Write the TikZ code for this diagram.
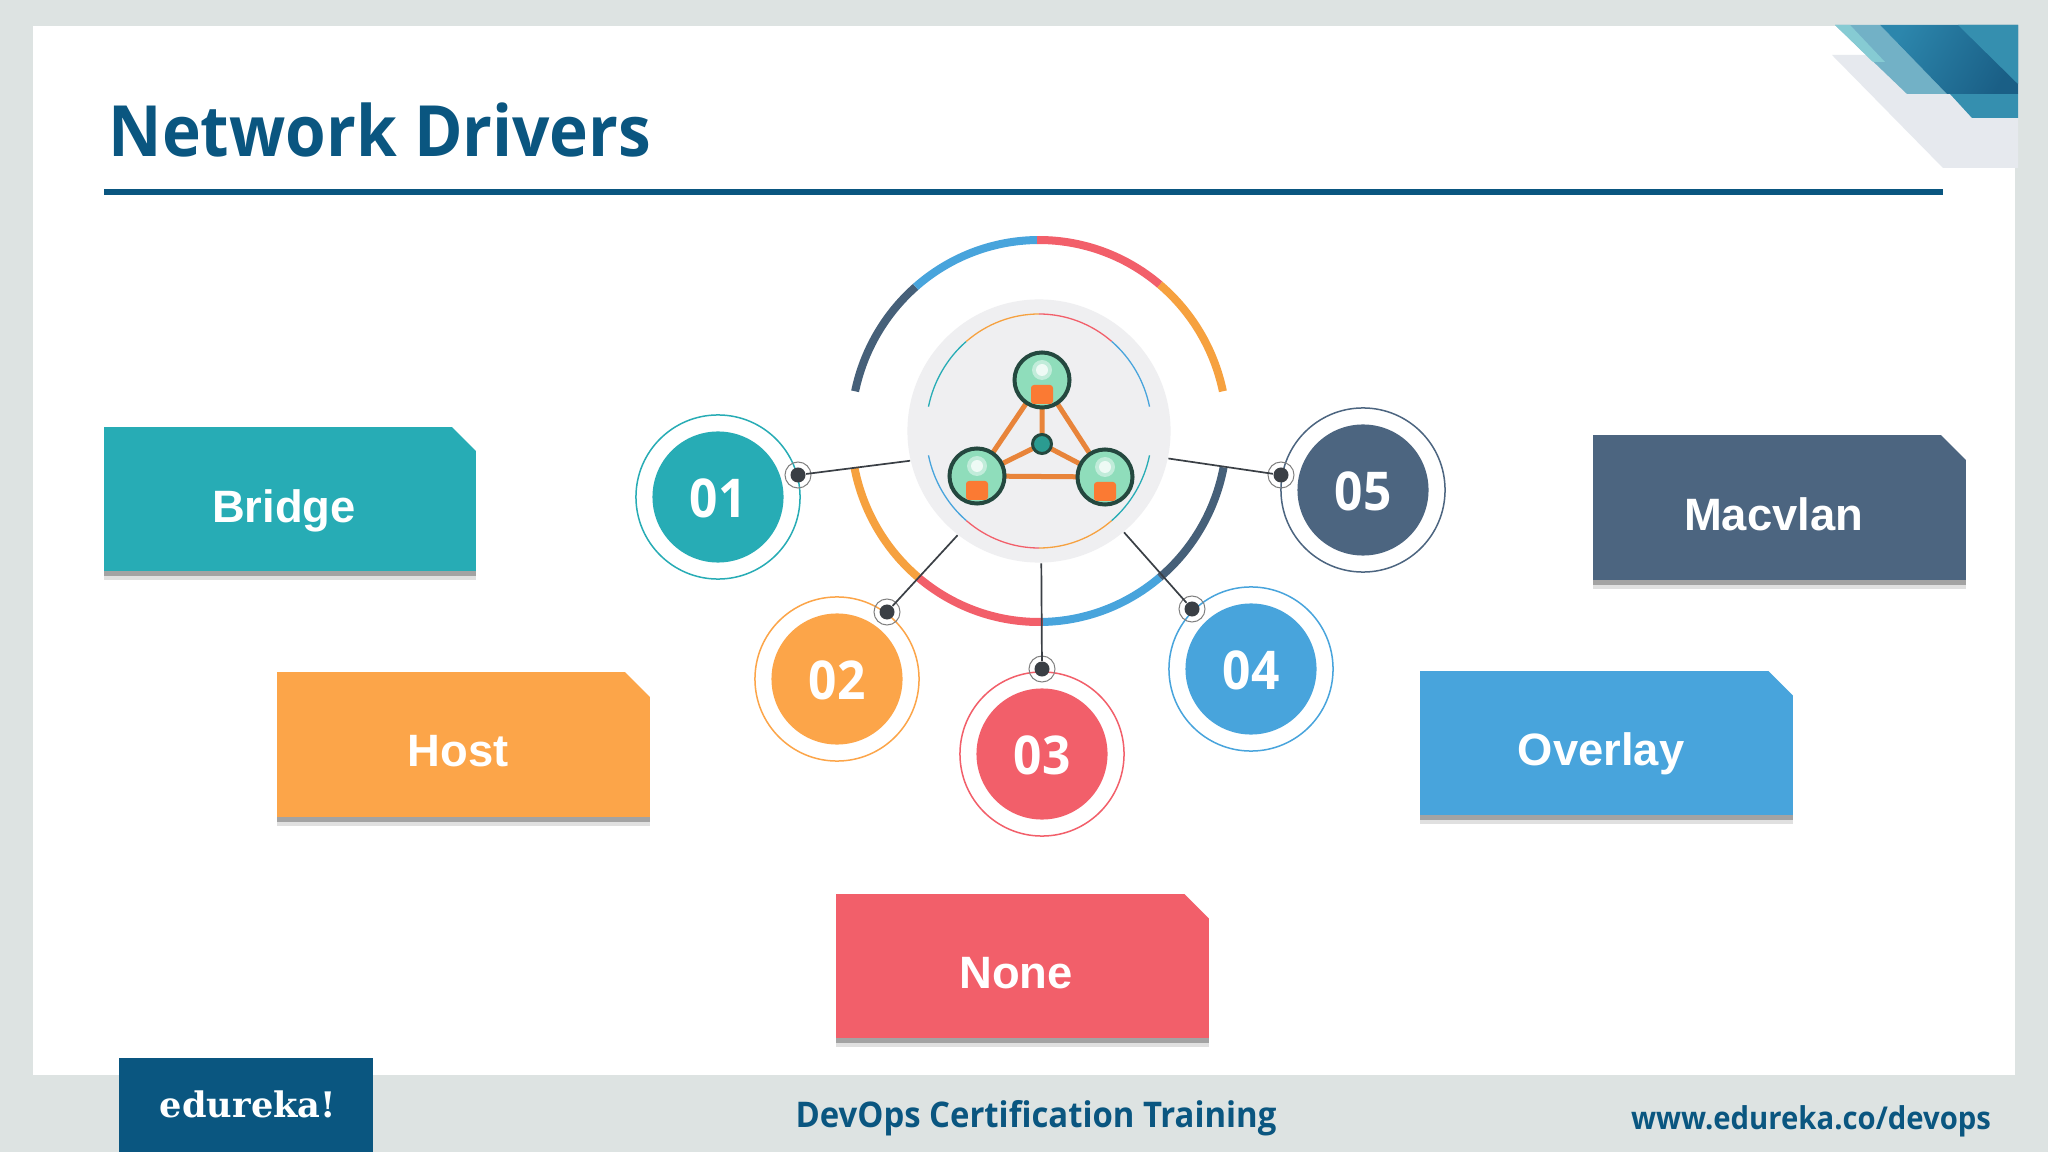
\documentclass[tikz,border=0pt]{standalone}
\usepackage{fontspec}
\setmainfont{Open Sans}[FakeStretch=0.93]
\newfontfamily\cardfont{Liberation Sans}
\newfontfamily\logofont{DejaVu Serif}
\definecolor{framegray}{HTML}{DDE3E2}
\definecolor{navy}{HTML}{0A5680}
\definecolor{tealc}{HTML}{27ACB5}
\definecolor{orangec}{HTML}{FCA549}
\definecolor{redc}{HTML}{F25F6A}
\definecolor{bluec}{HTML}{48A4DC}
\definecolor{slatec}{HTML}{4C6580}
\definecolor{arcorange}{HTML}{F6A13F}
\definecolor{arcslate}{HTML}{466079}
\definecolor{hubgray}{HTML}{EFEFF1}
\definecolor{dotdark}{HTML}{3A3F45}
\definecolor{linkorange}{HTML}{E8843A}
\definecolor{ballmint}{HTML}{8FDDBB}
\definecolor{ballrim}{HTML}{24483F}
\definecolor{ballpatch}{HTML}{FB7A33}
\definecolor{bannergray}{HTML}{E6E9EE}
\definecolor{bannerlight}{HTML}{72B1C6}
\definecolor{bannerpale}{HTML}{86CBD3}
\definecolor{bannerdeep}{HTML}{1A5F86}
\definecolor{bannermid}{HTML}{2C86AC}
\definecolor{bannertop}{HTML}{358FAF}
\tikzset{
  cardbox/.style={rectangle, minimum width=3.72cm, minimum height=1.44cm, inner sep=0pt, outer sep=0pt,
    preaction={fill=black!12, transform canvas={yshift=-0.09cm}},
    preaction={fill=black!36, transform canvas={yshift=-0.05cm}}},
  cardtext/.style={text=white, font=\cardfont\bfseries\fontsize{12.9}{15}\selectfont},
  numdisc/.style={circle, minimum size=1.31cm, inner sep=0pt, text=white, text height=0.41cm,
    font=\bfseries\fontsize{15.2}{19}\selectfont},
  numring/.style={circle, minimum size=1.64cm, inner sep=0pt, line width=0.015cm},
  pindot/.style={circle, fill=dotdark, minimum size=0.15cm, inner sep=0pt},
  pinring/.style={circle, draw=gray, minimum size=0.26cm, inner sep=0pt, line width=0.01cm},
  pinline/.style={dotdark, line width=0.017cm},
  bigarc/.style={line width=0.08cm},
  thinarc/.style={line width=0.013cm},
  linkline/.style={linkorange, line width=0.05cm},
  ball/.style={circle, fill=ballmint, draw=ballrim, line width=0.04cm, minimum size=0.55cm, inner sep=0pt}
}
\begin{document}
\begin{tikzpicture}[x=0.01cm, y=-0.01cm]
% Draw slide
\fill[framegray] (0,0) rectangle (2048,1152);
\fill[white] (33,26) rectangle (2015,1075);
% Draw corner banner
\fill[bannergray] (1832,55)--(2018,55)--(2018,168)--(1943,168)--cycle;
\fill[bannerlight] (1835,25)--(1880,25)--(1947,94)--(1907,94)--cycle;
\fill[bannerpale] (1835,25)--(1850,25)--(1885,62)--(1873,62)--cycle;
\fill[bannertop] (1950,94)--(2018,94)--(2018,118)--(1972,118)--cycle;
\shade[left color=bannermid, right color=bannerdeep, shading angle=60] (1880,25)--(2018,25)--(2018,94)--(1947,94)--cycle;
\fill[bannertop] (1958,25)--(2018,25)--(2018,84)--cycle;
% Draw title
\node[text=navy, font=\bfseries\fontsize{20.1}{24}\selectfont] (title) at (380,130) {Network Drivers};
\coordinate (ruleL) at (104,192);
\coordinate (ruleR) at (1943,192);
\draw[navy, line width=0.06cm] (ruleL)--(ruleR);
% Draw hub
\node[circle, fill=hubgray, minimum size=2.63cm, inner sep=0pt] (hub) at (1039,431) {};
\foreach \a/\b/\c in {-168/-131/arcslate, -131/-90.6/bluec, -90.6/-50/redc, -50/-12/arcorange,
  -191/-230/arcorange, -230/-271.2/redc, -271.2/-310/bluec, -310/-349/arcslate}
  \draw[bigarc, \c] (hub.center) ++(\a:188 and 191) arc[start angle=\a, end angle=\b, x radius=188, y radius=191];
\foreach \a/\b/\c in {-168/-130/tealc, -130/-90/arcorange, -90/-50/redc, -50/-12/bluec,
  -192/-230/bluec, -230/-270/redc, -270/-310/arcorange, -310/-348/tealc}
  \draw[thinarc, \c] (hub.center) ++(\a:113 and 117) arc[start angle=\a, end angle=\b, x radius=113, y radius=117];
% Draw icon
\coordinate (ballT) at (1042,380);
\coordinate (ballL) at (977,476);
\coordinate (ballR) at (1105,477);
\coordinate (ballM) at (1042,444);
\draw[linkline] (ballT)--(ballL)--(ballR)--(ballT)--(ballM)--(ballL) (ballM)--(ballR);
\foreach \p in {ballT,ballL,ballR} {
  \node[ball] at (\p) {};
  \fill[white!45!ballmint] (\p) ++(0,-10) circle (10);
  \fill[white!85!ballmint] (\p) ++(0,-10) circle (6);
  \fill[ballpatch, rounded corners=0.03cm] (\p) ++(-11,5) rectangle ++(22,19);
}
\node[circle, fill=teal!70!ballmint, draw=ballrim, line width=0.03cm, minimum size=0.19cm, inner sep=0pt] at (ballM) {};
% Draw number circles
\node[numring, draw=tealc] (ring01) at (718,497) {};
\node[numdisc, fill=tealc] (num01) at (718,497) {01};
\node[numring, draw=orangec] (ring02) at (837,679) {};
\node[numdisc, fill=orangec] (num02) at (837,679) {02};
\node[numring, draw=redc] (ring03) at (1042,754) {};
\node[numdisc, fill=redc] (num03) at (1042,754) {03};
\node[numring, draw=bluec] (ring04) at (1251,669) {};
\node[numdisc, fill=bluec] (num04) at (1251,669) {04};
\node[numring, draw=slatec] (ring05) at (1363,490) {};
\node[numdisc, fill=slatec] (num05) at (1363,490) {05};
% Draw pins
\node[pinring] (pinring01) at (798,475) {};
\node[pindot] (pin01) at (798,475) {};
\node[pinring] (pinring02) at (887,612) {};
\node[pindot] (pin02) at (887,612) {};
\node[pinring] (pinring03) at (1042,669) {};
\node[pindot] (pin03) at (1042,669) {};
\node[pinring] (pinring04) at (1192,609) {};
\node[pindot] (pin04) at (1192,609) {};
\node[pinring] (pinring05) at (1281,475) {};
\node[pindot] (pin05) at (1281,475) {};
\draw[pinline] (hub.193)--(pin01);
\draw[pinline] (hub.232)--(pin02);
\draw[pinline] (hub.271.5)--(pin03);
\draw[pinline] (hub.310)--(pin04);
\draw[pinline] (hub.348)--(pin05);
% Draw cards
\node[cardbox, fill=tealc] (bridge) at (290,499) {};
\node[cardtext] at (284,511) {Bridge};
\node[cardbox, fill=slatec] (macvlan) at (1779.5,507.5) {};
\node[cardtext] at (1773.5,514.5) {Macvlan};
\node[cardbox, fill=orangec] (host) at (463.5,744.5) {};
\node[cardtext] at (458,751) {Host};
\node[cardbox, fill=bluec] (overlay) at (1606.5,743) {};
\node[cardtext] at (1601,754) {Overlay};
\node[cardbox, fill=redc] (none) at (1022.5,966) {};
\node[cardtext] at (1016,973) {None};
% Cut card corners
\foreach \b in {bridge,macvlan,host,overlay,none}
  \fill[white] ([shift={(0.03cm,0.03cm)}]\b.north east) -- ([shift={(-0.27cm,0.03cm)}]\b.north east) -- ([shift={(0.03cm,-0.27cm)}]\b.north east) -- cycle;
% Draw footer
\fill[navy] (119,1058) rectangle (373,1152);
\node[text=white, font=\logofont\bfseries\fontsize{10}{12}\selectfont] (logo) at (248,1104) {edureka!};
\node[text=navy, font=\bfseries\fontsize{10.05}{13}\selectfont] (course) at (1036,1118) {DevOps Certification Training};
\node[text=navy, font=\bfseries\fontsize{8.95}{12}\selectfont] (site) at (1811,1121) {www.edureka.co/devops};
\end{tikzpicture}
\end{document}
